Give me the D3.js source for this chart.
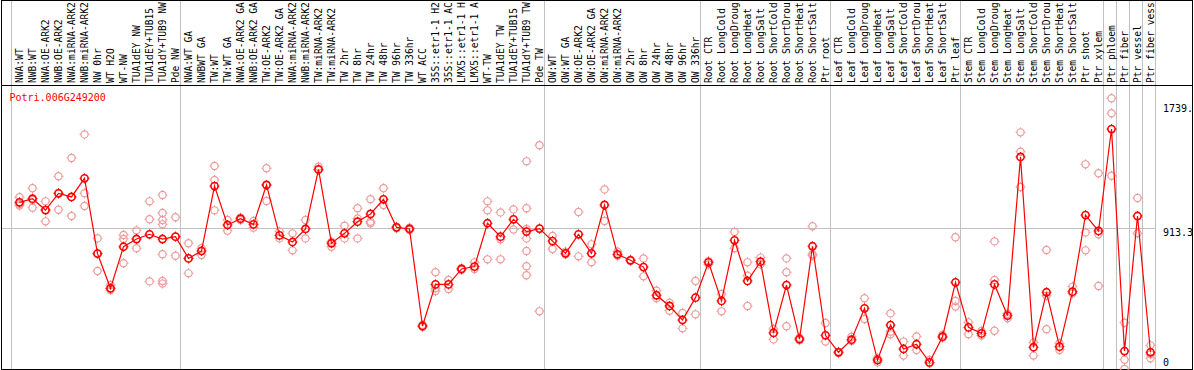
<!DOCTYPE html>
<html><head><meta charset="utf-8">
<script src="https://cdn.jsdelivr.net/npm/d3@7"></script>
<style>html,body{margin:0;padding:0;background:#fff;}svg{display:block;}</style>
</head><body>
<svg id="chart" width="1194" height="370"></svg>
<script>
const geneName = "Potri.006G249200";
// labels as displayed in the chart (truncated to 14 characters)
const categories = [
"NWA:WT","NWB:WT","NWA:OE-ARK2","NWB:OE-ARK2","NWA:miRNA-ARK2","NWB:miRNA-ARK2","NW 0hr","WT H2O","WT-NW","TUA1dEY NW","TUA1dEY+TUB15","TUA1dY+TUB9 NW","Pde NW",
"NWA:WT GA","NWBWT GA","TW:WT","TW:WT GA","NWA:OE-ARK2 GA","NWB:OE-ARK2 GA","TW:OE-ARK2","TW:OE-ARK2 GA","NWA:miRNA-ARK2","NWB:miRNA-ARK2","TW:miRNA-ARK2","TW:miRNA-ARK2","TW 2hr","TW 8hr","TW 24hr","TW 48hr","TW 96hr","TW 336hr","WT ACC","35S::etr1-1 H2","35S::etr1-1 AC","LMX5::etr1-1 H","LMX5::etr1-1 A","WT-TW","TUA1dEY TW","TUA1dEY+TUB15","TUA1dY+TUB9 TW","Pde TW",
"OW:WT","OW:WT GA","OW:OE-ARK2","OW:OE-ARK2 GA","OW:miRNA-ARK2","OW:miRNA-ARK2","OW 2hr","OW 8hr","OW 24hr","OW 48hr","OW 96hr","OW 336hr",
"Root CTR","Root LongCold","Root LongDroug","Root LongHeat","Root LongSalt","Root ShortCold","Root ShortDrou","Root ShortHeat","Root ShortSalt","Ptr root",
"Leaf CTR","Leaf LongCold","Leaf LongDroug","Leaf LongHeat","Leaf LongSalt","Leaf ShortCold","Leaf ShortDrou","Leaf ShortHeat","Leaf ShortSalt","Ptr leaf",
"Stem CTR","Stem LongCold","Stem LongDroug","Stem LongHeat","Stem LongSalt","Stem ShortCold","Stem ShortDrou","Stem ShortHeat","Stem ShortSalt","Ptr shoot","Ptr xylem","Ptr phloem","Ptr fiber","Ptr vessel","Ptr fiber vess"
];
const means = [
1077,1100,1028,1134,1111,1229,751,531,795,844,874,844,859,
721,768,1180,933,973,937,1187,867,825,908,1286,817,880,954,1003,1096,918,908,292,556,556,654,669,944,859,969,891,910,
831,753,874,753,1060,747,709,666,487,419,330,472,
696,451,836,578,700,248,552,209,798,233,
125,205,404,76,298,146,176,61,224,569,
283,245,556,358,1365,157,506,161,510,996,895,1542,133,990,125
];
const replicates = [
[1109,1066,1056],[1166,1092,1043],[1083,1028,956],[1242,1134,1030],[1358,1111,990],[1508,1134,1054],[848,753,641],[552,531,520],[870,844,690],[899,844,785],[1083,969,575],[1123,1009,965,937,747,578,561],[982,859,738],
[817,721,626],[785,743],[1307,1219,1026],[965,897],[980,965],[958,916],[1293,1085,1187],[891,848],[880,772],[965,848],[1303,1282],[827,795],[929,848],[1039,975,848],[1096,954,944],[1166,1060],[922,912],[916,901],[298,286],[633,531,514],[584,527],[658,647],[696,654],[1083,1026,715],[1013,842,715],[1032,905],[1337,1039,908,848,768,671,614],[1439,910,385],
[863,781],[764,747],[1015,734],[810,696],[1159,958],[764,738],[713,704],[721,607],[516,468],[440,389],[374,277],[578,366],
[704,683],[495,385],[889,785],[696,611,419],[726,683],[273,207],[721,633,290],[218,201],[925,747,738],[311,193],
[129,121],[224,197],[468,336],[87,61],[372,256,239],[193,104],[226,140],[76,55],[235,218],[855,451,415],
[315,239],[260,231],[829,584,262],[370,341],[1521,1398,1174],[188,104],[774,484,271],[182,140],[542,499],[1318,886,772],[1261,874,546],[1737,1642,1246],[313,78,19],[1104,880],[169,112,87]
];
const groupStarts = [0,13,41,53,63,73,84,85,86,87,88];
const yTickValues = [1739, 913.3, 0];
const yTickLabels = ["1739.", "913.3", "0"];

const W = 1194, H = 370;
const svg = d3.select("#chart");
const font = "'DejaVu Sans Mono', monospace";

const x = d3.scaleLinear().domain([0, categories.length - 1]).range([19.5, 1150.5]);
const y = d3.scaleLinear().domain([0, 1739]).range([372, 98]);

svg.append("rect").attr("width", W).attr("height", H).attr("fill", "#fff");

// vertical group gridlines
svg.append("g").selectAll("line").data(groupStarts).join("line")
  .attr("x1", d => Math.floor(x(d) - 8) + 0.5)
  .attr("x2", d => Math.floor(x(d) - 8) + 0.5)
  .attr("y1", 0).attr("y2", 369)
  .attr("stroke", "#c0c0c0").attr("stroke-width", 1);

// horizontal line at middle tick
svg.append("line")
  .attr("x1", 1).attr("x2", Math.floor(x(88) - 8) + 0.5)
  .attr("y1", Math.round(y(yTickValues[1])) + 0.5).attr("y2", Math.round(y(yTickValues[1])) + 0.5)
  .attr("stroke", "#c0c0c0").attr("stroke-width", 1);

// borders
const bc = "#000";
svg.append("line").attr("x1", 1.5).attr("x2", 1.5).attr("y1", 0).attr("y2", 370).attr("stroke", bc);
svg.append("line").attr("x1", 1192.5).attr("x2", 1192.5).attr("y1", 0).attr("y2", 370).attr("stroke", bc);
svg.append("line").attr("x1", 1).attr("x2", 1193).attr("y1", 0.5).attr("y2", 0.5).attr("stroke", bc);
svg.append("line").attr("x1", 1).attr("x2", 1193).attr("y1", 85.5).attr("y2", 85.5).attr("stroke", bc);
svg.append("line").attr("x1", 1).attr("x2", 1193).attr("y1", 369.5).attr("y2", 369.5).attr("stroke", bc);

// category labels (rotated)
svg.append("g").selectAll("text").data(categories).join("text")
  .attr("transform", (d, i) => `translate(${x(i) + 3.5},83) rotate(-90)`)
  .attr("text-anchor", "start")
  .attr("font-family", font).attr("font-size", "9.6px").attr("fill", "#000")
  .text(d => d);

// title
svg.append("text").attr("x", 9.5).attr("y", 101)
  .attr("font-family", font).attr("font-size", "10px").attr("fill", "#ff0000")
  .text(geneName);

// y tick labels on right
svg.append("g").selectAll("text").data(yTickValues).join("text")
  .attr("x", 1163)
  .attr("y", d => Math.min(Math.max(y(d) + 8, 112), 366))
  .attr("font-family", font).attr("font-size", "10px").attr("fill", "#000")
  .text((d, i) => yTickLabels[i]);

function marker(g, cx, cy, color, sw) {
  const r = 3.6;
  g.append("circle").attr("cx", cx).attr("cy", cy).attr("r", r)
    .attr("fill", "none").attr("stroke", color).attr("stroke-width", sw);
  const t = 1.4;
  g.append("path")
    .attr("d", `M${cx},${cy - r - t}V${cy - r}M${cx},${cy + r}V${cy + r + t}M${cx - r - t},${cy}H${cx - r}M${cx + r},${cy}H${cx + r + t}`)
    .attr("stroke", color).attr("stroke-width", 1).attr("fill", "none");
}

// replicates
const repG = svg.append("g");
replicates.forEach((arr, i) => arr.forEach(v => marker(repG, x(i), y(v), "#ee9a9a", 1.2)));

// mean line
svg.append("path")
  .datum(means)
  .attr("d", d3.line().x((d, i) => x(i)).y(d => y(d)))
  .attr("fill", "none").attr("stroke", "#ff0000").attr("stroke-width", 1.2);

// mean markers
const meanG = svg.append("g");
means.forEach((v, i) => marker(meanG, x(i), y(v), "#ff0000", 1.6));
</script>
</body></html>
